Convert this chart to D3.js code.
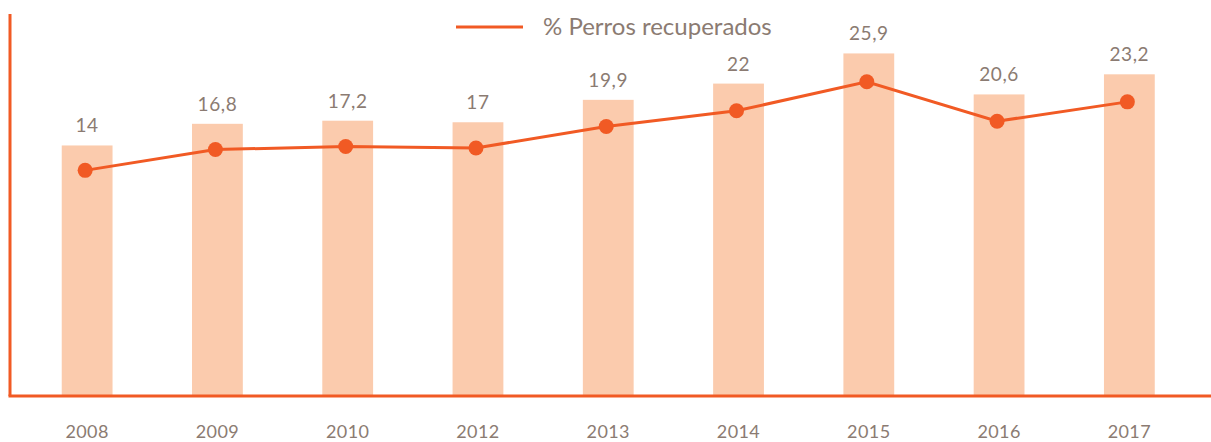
<!DOCTYPE html>
<html>
<head>
<meta charset="utf-8">
<script src="https://cdn.jsdelivr.net/npm/d3@7"></script>
<style>
    body { margin: 0; background: #fff; }
    svg { display: block; font-family: Lato, "Open Sans", sans-serif; }
</style>
</head>
<body>
<div id="chart"></div>
<script>
var years = ['2008', '2009', '2010', '2012', '2013', '2014', '2015', '2016', '2017'];
var recuperados = [14, 16.8, 17.2, 17, 19.9, 22, 25.9, 20.6, 23.2];
var seriesName = '% Perros recuperados';

var width = 1211, height = 442;
var orange = '#f15a24', barFill = '#fbcbad', textColor = '#8b7b72';
var axisX = 10, baseY = 396, topY = 14;

var svg = d3.select('#chart').append('svg')
    .attr('width', width)
    .attr('height', height);

var x = d3.scaleBand()
    .domain(years)
    .range([22, 1194.5])
    .paddingInner(0.61)
    .paddingOuter(0.305);

// bars and line sit on two different value axes in the original
var yBar = d3.scaleLinear().domain([-18.4, 31]).range([baseY, topY]);
var yLine = d3.scaleLinear().domain([-16.3, 35]).range([baseY, topY]);

var data = years.map((d, i) => ({year: d, value: recuperados[i]}));
var cx = d => x(d.year) + x.bandwidth() / 2;

svg.append('g').attr('class', 'bars')
    .selectAll('rect').data(data).enter().append('rect')
    .attr('x', d => x(d.year))
    .attr('y', d => yBar(d.value))
    .attr('width', x.bandwidth())
    .attr('height', d => baseY - yBar(d.value))
    .attr('fill', barFill);

svg.append('g').attr('class', 'labels')
    .selectAll('text').data(data).enter().append('text')
    .attr('x', cx)
    .attr('y', d => yBar(d.value) - 13)
    .attr('text-anchor', 'middle')
    .attr('font-size', 19)
    .attr('letter-spacing', 0.6)
    .attr('fill', textColor)
    .text(d => String(d.value).replace('.', ','));

// axes
svg.append('line')
    .attr('x1', axisX).attr('x2', axisX)
    .attr('y1', topY).attr('y2', baseY)
    .attr('stroke', orange).attr('stroke-width', 3);
svg.append('line')
    .attr('x1', axisX - 1.5).attr('x2', width)
    .attr('y1', baseY).attr('y2', baseY)
    .attr('stroke', orange).attr('stroke-width', 3);

svg.append('g').attr('class', 'x-labels')
    .selectAll('text').data(years).enter().append('text')
    .attr('x', d => x(d) + x.bandwidth() / 2)
    .attr('y', 438)
    .attr('text-anchor', 'middle')
    .attr('font-size', 18)
    .attr('letter-spacing', 0.4)
    .attr('fill', textColor)
    .text(d => d);

var line = d3.line()
    .x(d => cx(d) - 2)
    .y(d => yLine(d.value));

svg.append('path')
    .datum(data)
    .attr('d', line)
    .attr('fill', 'none')
    .attr('stroke', orange)
    .attr('stroke-width', 3);

svg.append('g').attr('class', 'dots')
    .selectAll('circle').data(data).enter().append('circle')
    .attr('cx', d => cx(d) - 2)
    .attr('cy', d => yLine(d.value))
    .attr('r', 7.5)
    .attr('fill', orange);

// legend
var legend = svg.append('g').attr('class', 'legend');
legend.append('line')
    .attr('x1', 456).attr('x2', 523)
    .attr('y1', 27).attr('y2', 27)
    .attr('stroke', orange).attr('stroke-width', 3);
legend.append('text')
    .attr('x', 543).attr('y', 35)
    .attr('font-size', 24)
    .attr('fill', textColor)
    .text(seriesName);
</script>
</body>
</html>
